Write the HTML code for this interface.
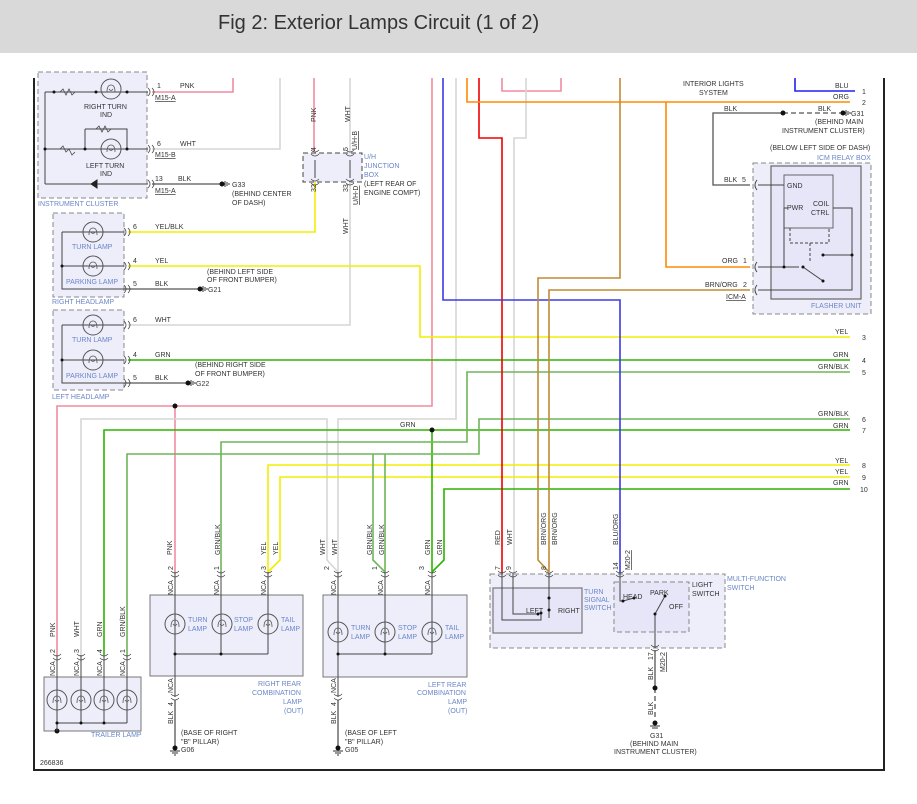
<!DOCTYPE html>
<html><head><meta charset="utf-8"><style>
body{margin:0;background:#fff;width:917px;height:804px;overflow:hidden;font-family:"Liberation Sans",sans-serif}
#hdr{position:absolute;left:0;top:0;width:917px;height:53px;background:#d9d9d9}
#hdr span{position:absolute;left:218px;top:12px;font-size:20px;color:#333}
svg{position:absolute;left:0;top:0}
text{font-family:"Liberation Sans",sans-serif;font-size:7px;fill:#333}
.b{fill:#6a86c8}
</style></head><body>
<div id="hdr"><span>Fig 2: Exterior Lamps Circuit (1 of 2)</span></div>
<svg width="917" height="804" viewBox="0 0 917 804">
<defs>
<g id="ch"><path d="M-4,-4 Q0,0 -4,4 M0,-4 Q4,0 0,4" fill="none" stroke="#444" stroke-width="0.8"/></g>
<g id="cv"><path d="M-4,-3 Q0,1 4,-3 M-4,1 Q0,5 4,1" fill="none" stroke="#444" stroke-width="0.8"/></g>
<g id="lp"><circle r="10" fill="none" stroke="#555" stroke-width="1"/><path d="M-4,3 Q-4,-4 0,-4 Q4,-4 4,3 M-2,0 Q0,3 2,0" fill="none" stroke="#555" stroke-width="0.8"/></g>
<g id="gnd"><path d="M0,-3 V3 M2,-2 V2 M4,-1 V1" stroke="#333" stroke-width="1"/></g>
</defs>
<!-- frame -->
<path d="M34,78 V770 H884 V78" fill="none" stroke="#222" stroke-width="2"/>
<!-- boxes -->
<rect x="38" y="72" width="109" height="126" fill="#eeeefb" stroke="#888" stroke-dasharray="5,3"/>
<rect x="53" y="213" width="71" height="84" fill="#eeeefb" stroke="#888" stroke-dasharray="5,3"/>
<rect x="53" y="310" width="71" height="80" fill="#eeeefb" stroke="#888" stroke-dasharray="5,3"/>
<rect x="303" y="153" width="59" height="29" fill="#eeeefb" stroke="#444" stroke-dasharray="5,3"/>
<rect x="753" y="163" width="118" height="151" fill="#eeeefb" stroke="#888" stroke-dasharray="5,3"/>
<rect x="771" y="166" width="90" height="133" fill="#e6e6f8" stroke="#666" stroke-width="1.2"/>
<rect x="784" y="175" width="49" height="53" fill="#e6e6f8" stroke="#666" stroke-width="1"/>
<rect x="150" y="595" width="153" height="81" fill="#eeeefb" stroke="#777"/>
<rect x="323" y="595" width="144" height="82" fill="#eeeefb" stroke="#777"/>
<rect x="44" y="677" width="97" height="54" fill="#eeeefb" stroke="#777"/>
<rect x="490" y="574" width="235" height="74" fill="#eeeefb" stroke="#888" stroke-dasharray="5,3"/>
<rect x="493" y="588" width="89" height="45" fill="#e6e6f8" stroke="#777" stroke-width="1.2"/>
<rect x="614" y="582" width="75" height="50" fill="#e6e6f8" stroke="#888" stroke-dasharray="5,3"/>

<g fill="none" stroke-width="1.6">
<!-- PNK -->
<path d="M152,92 H233 V78" stroke="#f08ca0"/>
<path d="M314,78 V153" stroke="#f08ca0"/>
<path d="M432,78 V406 H57 V655" stroke="#f08ca0"/>
<path d="M175,406 V572" stroke="#f08ca0"/>
<path d="M502,78 V91 H561 V78" stroke="#f08ca0"/>
<!-- WHT -->
<path d="M152,149 H280 V78" stroke="#d6d6d6"/>
<path d="M350,78 V153" stroke="#d6d6d6"/>
<path d="M350,182 V325 H128" stroke="#d6d6d6"/>
<path d="M456,78 V419 H338 V572" stroke="#d6d6d6"/>
<path d="M81,655 V419 H327 V560 L338,572" stroke="#d6d6d6"/>
<path d="M526,78 V138 H514 V573" stroke="#d6d6d6"/>
<!-- YEL -->
<path d="M315,182 V232 H128" stroke="#f2ee00"/>
<path d="M128,266 H420 V337 H850" stroke="#f2ee00"/>
<path d="M850,465 H268 V572" stroke="#f2ee00"/>
<path d="M850,477 H280 V560 L268,572" stroke="#f2ee00"/>
<!-- GRN -->
<path d="M128,360 H850" stroke="#2db400"/>
<path d="M850,430 H104 V655" stroke="#2db400"/>
<path d="M432,430 V572" stroke="#2db400"/>
<path d="M850,489 H444 V560 L432,572" stroke="#2db400"/>
<!-- GRN/BLK -->
<path d="M850,372 H467 V442 H221 V572" stroke="#6db55a"/>
<path d="M850,419 H479 V454 H127 V655" stroke="#6db55a"/>
<path d="M373,454 V560 L385,572" stroke="#6db55a"/>
<path d="M385,454 V572" stroke="#6db55a"/>
<!-- RED -->
<path d="M479,78 V138 H502 V573" stroke="#f00000"/>
<!-- BLU -->
<path d="M443,78 V300 H620 V573" stroke="#3a3ae8"/>
<path d="M795,78 V91 H855" stroke="#2020f0"/>
<!-- ORG -->
<path d="M467,78 V102 H850" stroke="#ff8a00"/>
<path d="M666,102 V267 H750" stroke="#ff8a00"/>
<!-- BRN/ORG -->
<path d="M620,78 V278 H538 V560 L549,572" stroke="#c08a35"/>
<path d="M750,290 H549 V572" stroke="#c08a35"/>
<!-- BLK -->
<g stroke="#555" stroke-width="1.3">
<path d="M152,184 H222"/><path d="M124,289 H200"/><path d="M124,383 H188"/>
<path d="M783,113 H713 V185 H750"/>
<path d="M175,700 V748"/><path d="M338,700 V748"/>
<path d="M655,650 V688"/>
</g>
<path d="M783,113 H843" stroke="#555" stroke-width="1.3" stroke-dasharray="5,3"/>
<path d="M655,688 V720" stroke="#555" stroke-width="1.3" stroke-dasharray="5,3"/>
</g>

<!-- dots -->
<g fill="#111">
<circle cx="175" cy="406" r="2.5"/><circle cx="432" cy="430" r="2.5"/>
<circle cx="222" cy="184" r="2.5"/><circle cx="200" cy="289" r="2.5"/><circle cx="188" cy="383" r="2.5"/>
<circle cx="783" cy="113" r="2.5"/><circle cx="843" cy="113" r="2.5"/><circle cx="655" cy="688" r="2.5"/>
<circle cx="175" cy="748" r="2.5"/><circle cx="338" cy="748" r="2.5"/><circle cx="655" cy="723" r="2.5"/><circle cx="57" cy="731" r="2.5"/>
</g>
<use href="#gnd" x="225" y="184"/><use href="#gnd" x="203" y="289"/><use href="#gnd" x="191" y="383"/><use href="#gnd" x="846" y="113"/>
<path d="M170,751 H180 M172,753 H178 M174,755 H176 M333,751 H343 M335,753 H341 M337,755 H339 M650,726 H660 M652,728 H658" stroke="#333" stroke-width="1"/>

<!-- connectors -->
<use href="#ch" x="152" y="92"/><use href="#ch" x="152" y="149"/><use href="#ch" x="152" y="184"/>
<use href="#ch" x="128" y="232"/><use href="#ch" x="128" y="266"/><use href="#ch" x="128" y="289"/>
<use href="#ch" x="128" y="325"/><use href="#ch" x="128" y="360"/><use href="#ch" x="128" y="383"/>
<use href="#cv" x="175" y="574"/><use href="#cv" x="221" y="574"/><use href="#cv" x="268" y="574"/>
<use href="#cv" x="338" y="574"/><use href="#cv" x="385" y="574"/><use href="#cv" x="432" y="574"/>
<use href="#cv" x="57" y="657"/><use href="#cv" x="81" y="657"/><use href="#cv" x="104" y="657"/><use href="#cv" x="127" y="657"/>
<use href="#cv" x="175" y="697"/><use href="#cv" x="338" y="697"/>
<use href="#cv" x="502" y="574"/><use href="#cv" x="513" y="574"/><use href="#cv" x="549" y="574"/><use href="#cv" x="620" y="574"/><use href="#cv" x="655" y="648"/>
<use href="#cv" x="315" y="153"/><use href="#cv" x="350" y="153"/><use href="#cv" x="315" y="182"/><use href="#cv" x="350" y="182"/>
<path d="M757,180 Q753,185 757,190 M757,262 Q753,267 757,272 M757,285 Q753,290 757,295" fill="none" stroke="#444"/>

<!-- inside components: black wires -->
<g fill="none" stroke="#444" stroke-width="1">
<path d="M315,160 V178 M350,160 V178"/>
<path d="M175,572 V697 M221,572 V654 M268,572 V654 M175,654 H268"/>
<path d="M338,572 V697 M385,572 V654 M432,572 V654 M338,654 H432"/>
<path d="M57,655 V731 M81,655 V723 M104,655 V723 M127,655 V723 M57,723 H127"/>
<path d="M45,92 H148 M45,149 H148 M45,184 H148 M45,92 V184"/>
<path d="M85,129 H127 V149 M85,129 V149"/>
<path d="M62,266 H124 M62,232 H124 M62,232 V289 H124"/>
<path d="M62,360 H124 M62,325 H124 M62,325 V383 H124"/>
<path d="M758,185 H784 M758,267 H799 M758,290 H852 V208 H833 M788,208 H784 V267"/>
<path d="M790,228 V243 H829 V228 M810,243 V262" stroke-dasharray="3,2"/>
<path d="M803,267 L823,281 M823,255 H852"/>
<path d="M502,573 V620 H541 V613 M513,573 V614 H538 M549,573 V618 M549,598 V610"/>
<path d="M620,573 V601 H623 L634,598 M655,648 V614 L665,596"/>
</g>
<g fill="#111"><circle cx="54" cy="92" r="1.5"/><circle cx="96" cy="92" r="1.5"/><circle cx="127" cy="92" r="1.5"/>
<circle cx="45" cy="149" r="1.5"/><circle cx="85" cy="149" r="1.5"/><circle cx="127" cy="149" r="1.5"/>
<circle cx="62" cy="266" r="1.5"/><circle cx="62" cy="360" r="1.5"/>
<circle cx="175" cy="654" r="1.5"/><circle cx="221" cy="654" r="1.5"/><circle cx="338" cy="654" r="1.5"/><circle cx="385" cy="654" r="1.5"/>
<circle cx="57" cy="723" r="1.5"/><circle cx="81" cy="723" r="1.5"/><circle cx="104" cy="723" r="1.5"/>
<circle cx="784" cy="267" r="1.5"/><circle cx="803" cy="267" r="1.5"/><circle cx="823" cy="281" r="1.5"/><circle cx="823" cy="255" r="1.5"/><circle cx="852" cy="255" r="1.5"/>
<circle cx="538" cy="614" r="1.5"/><circle cx="541" cy="613" r="1.5"/><circle cx="549" cy="598" r="1.5"/><circle cx="549" cy="610" r="1.5"/>
<circle cx="623" cy="601" r="1.5"/><circle cx="634" cy="598" r="1.5"/><circle cx="665" cy="596" r="1.5"/><circle cx="655" cy="614" r="1.5"/></g>
<path d="M91,184 L97,180 V188 Z M97,180 V188" fill="#222" stroke="#222"/>
<path d="M60,92 l3,-3 l3,6 l3,-6 l3,6 l3,-3 M60,149 l3,-3 l3,6 l3,-3 l3,6 l3,-3 M96,129 l3,-3 l3,6 l3,-6 l3,6 l3,-3" fill="none" stroke="#444" stroke-width="0.8"/>

<!-- lamps -->
<g fill="#eeeefb">
<use href="#lp" x="111" y="89"/><use href="#lp" x="111" y="149"/>
<use href="#lp" x="93" y="232"/><use href="#lp" x="93" y="266"/>
<use href="#lp" x="93" y="325"/><use href="#lp" x="93" y="360"/>
<use href="#lp" x="175" y="624"/><use href="#lp" x="222" y="624"/><use href="#lp" x="268" y="624"/>
<use href="#lp" x="338" y="632"/><use href="#lp" x="385" y="632"/><use href="#lp" x="432" y="632"/>
<use href="#lp" x="57" y="700"/><use href="#lp" x="81" y="700"/><use href="#lp" x="104" y="700"/><use href="#lp" x="127" y="700"/>
</g>

<!-- labels -->
<text x="157" y="88">1</text><text x="180" y="88">PNK</text><text x="155" y="100" text-decoration="underline">M15-A</text>
<text x="157" y="146">6</text><text x="180" y="146">WHT</text><text x="155" y="157" text-decoration="underline">M15-B</text>
<text x="155" y="181">13</text><text x="178" y="181">BLK</text><text x="155" y="193" text-decoration="underline">M15-A</text>
<text x="232" y="187">G33</text><text x="232" y="196">(BEHIND CENTER</text><text x="232" y="205">OF DASH)</text>
<text x="84" y="109">RIGHT TURN</text><text x="100" y="117">IND</text>
<text x="86" y="168">LEFT TURN</text><text x="100" y="176">IND</text>
<text class="b" x="38" y="206">INSTRUMENT CLUSTER</text>
<text x="133" y="229">6</text><text x="155" y="229">YEL/BLK</text>
<text x="133" y="263">4</text><text x="155" y="263">YEL</text>
<text x="133" y="286">5</text><text x="155" y="286">BLK</text>
<text x="207" y="274">(BEHIND LEFT SIDE</text><text x="207" y="282">OF FRONT BUMPER)</text><text x="208" y="292">G21</text>
<text class="b" x="72" y="249">TURN LAMP</text><text class="b" x="66" y="284">PARKING LAMP</text><text class="b" x="52" y="304">RIGHT HEADLAMP</text>
<text x="133" y="322">6</text><text x="155" y="322">WHT</text>
<text x="133" y="357">4</text><text x="155" y="357">GRN</text>
<text x="133" y="380">5</text><text x="155" y="380">BLK</text>
<text x="195" y="367">(BEHIND RIGHT SIDE</text><text x="195" y="376">OF FRONT BUMPER)</text><text x="196" y="386">G22</text>
<text class="b" x="72" y="342">TURN LAMP</text><text class="b" x="66" y="378">PARKING LAMP</text><text class="b" x="52" y="399">LEFT HEADLAMP</text>
<text x="364" y="159" class="b">U/H</text><text class="b" x="364" y="168">JUNCTION</text><text class="b" x="364" y="177">BOX</text>
<text x="364" y="186">(LEFT REAR OF</text><text x="364" y="195">ENGINE COMPT)</text>
<text transform="rotate(-90 316 122)" x="316" y="122">PNK</text>
<text transform="rotate(-90 350 122)" x="350" y="122">WHT</text>
<text transform="rotate(-90 316 151)" x="316" y="151">4</text>
<text transform="rotate(-90 348 151)" x="348" y="151">5</text>
<text transform="rotate(-90 357 150)" x="357" y="150" text-decoration="underline">U/H-B</text>
<text transform="rotate(-90 316 192)" x="316" y="192">32</text>
<text transform="rotate(-90 348 192)" x="348" y="192">33</text>
<text transform="rotate(-90 358 205)" x="358" y="205" text-decoration="underline">U/H-D</text>
<text transform="rotate(-90 348 234)" x="348" y="234">WHT</text>
<text x="683" y="86">INTERIOR LIGHTS</text><text x="699" y="95">SYSTEM</text>
<text x="835" y="88">BLU</text><text x="862" y="94">1</text>
<text x="833" y="99">ORG</text><text x="862" y="105">2</text>
<text x="724" y="111">BLK</text><text x="818" y="111">BLK</text><text x="851" y="116">G31</text>
<text x="815" y="124">(BEHIND MAIN</text><text x="782" y="133">INSTRUMENT CLUSTER)</text>
<text x="770" y="150">(BELOW LEFT SIDE OF DASH)</text><text class="b" x="817" y="160">ICM RELAY BOX</text>
<text x="724" y="182">BLK</text><text x="742" y="182">5</text>
<text x="787" y="188">GND</text><text x="787" y="210">PWR</text><text x="813" y="206">COIL</text><text x="811" y="215">CTRL</text>
<text x="722" y="263">ORG</text><text x="743" y="263">1</text>
<text x="705" y="287">BRN/ORG</text><text x="743" y="287">2</text><text x="726" y="299" text-decoration="underline">ICM-A</text>
<text class="b" x="811" y="308">FLASHER UNIT</text>
<text x="835" y="334">YEL</text><text x="862" y="340">3</text>
<text x="833" y="357">GRN</text><text x="862" y="363">4</text>
<text x="818" y="369">GRN/BLK</text><text x="862" y="375">5</text>
<text x="818" y="416">GRN/BLK</text><text x="862" y="422">6</text>
<text x="833" y="428">GRN</text><text x="862" y="433">7</text>
<text x="835" y="463">YEL</text><text x="862" y="468">8</text>
<text x="835" y="474">YEL</text><text x="862" y="480">9</text>
<text x="833" y="485">GRN</text><text x="860" y="492">10</text>
<text x="400" y="427">GRN</text>
<!-- vertical labels bottom -->
<g>
<text transform="rotate(-90 172 555)" x="172" y="555">PNK</text>
<text transform="rotate(-90 220 555)" x="220" y="555">GRN/BLK</text>
<text transform="rotate(-90 266 555)" x="266" y="555">YEL</text><text transform="rotate(-90 278 555)" x="278" y="555">YEL</text>
<text transform="rotate(-90 325 555)" x="325" y="555">WHT</text><text transform="rotate(-90 337 555)" x="337" y="555">WHT</text>
<text transform="rotate(-90 372 555)" x="372" y="555">GRN/BLK</text><text transform="rotate(-90 384 555)" x="384" y="555">GRN/BLK</text>
<text transform="rotate(-90 430 555)" x="430" y="555">GRN</text><text transform="rotate(-90 442 555)" x="442" y="555">GRN</text>
<text transform="rotate(-90 500 545)" x="500" y="545">RED</text><text transform="rotate(-90 512 545)" x="512" y="545">WHT</text>
<text transform="rotate(-90 546 545)" x="546" y="545">BRN/ORG</text><text transform="rotate(-90 557 545)" x="557" y="545">BRN/ORG</text>
<text transform="rotate(-90 618 545)" x="618" y="545">BLU/ORG</text>
<text transform="rotate(-90 173 570)" x="173" y="570">2</text><text transform="rotate(-90 219 570)" x="219" y="570">1</text><text transform="rotate(-90 266 570)" x="266" y="570">3</text>
<text transform="rotate(-90 329 570)" x="329" y="570">2</text><text transform="rotate(-90 377 570)" x="377" y="570">1</text><text transform="rotate(-90 424 570)" x="424" y="570">3</text>
<text transform="rotate(-90 500 570)" x="500" y="570">7</text><text transform="rotate(-90 511 570)" x="511" y="570">9</text><text transform="rotate(-90 546 570)" x="546" y="570">8</text><text transform="rotate(-90 618 570)" x="618" y="570">14</text>
<text transform="rotate(-90 630 570)" x="630" y="570" text-decoration="underline">M20-2</text>
<text transform="rotate(-90 173 595)" x="173" y="595">NCA</text><text transform="rotate(-90 219 595)" x="219" y="595">NCA</text><text transform="rotate(-90 266 595)" x="266" y="595">NCA</text>
<text transform="rotate(-90 336 595)" x="336" y="595">NCA</text><text transform="rotate(-90 383 595)" x="383" y="595">NCA</text><text transform="rotate(-90 430 595)" x="430" y="595">NCA</text>
<text transform="rotate(-90 55 637)" x="55" y="637">PNK</text><text transform="rotate(-90 79 637)" x="79" y="637">WHT</text><text transform="rotate(-90 102 637)" x="102" y="637">GRN</text><text transform="rotate(-90 125 637)" x="125" y="637">GRN/BLK</text>
<text transform="rotate(-90 55 653)" x="55" y="653">2</text><text transform="rotate(-90 79 653)" x="79" y="653">3</text><text transform="rotate(-90 102 653)" x="102" y="653">4</text><text transform="rotate(-90 125 653)" x="125" y="653">1</text>
<text transform="rotate(-90 55 676)" x="55" y="676">NCA</text><text transform="rotate(-90 79 676)" x="79" y="676">NCA</text><text transform="rotate(-90 102 676)" x="102" y="676">NCA</text><text transform="rotate(-90 125 676)" x="125" y="676">NCA</text>
<text transform="rotate(-90 173 693)" x="173" y="693">NCA</text><text transform="rotate(-90 173 706)" x="173" y="706">4</text><text transform="rotate(-90 173 724)" x="173" y="724">BLK</text>
<text transform="rotate(-90 336 693)" x="336" y="693">NCA</text><text transform="rotate(-90 336 706)" x="336" y="706">4</text><text transform="rotate(-90 336 724)" x="336" y="724">BLK</text>
<text transform="rotate(-90 653 660)" x="653" y="660">17</text><text transform="rotate(-90 665 672)" x="665" y="672" text-decoration="underline">M20-2</text>
<text transform="rotate(-90 653 680)" x="653" y="680">BLK</text><text transform="rotate(-90 653 715)" x="653" y="715">BLK</text>
</g>
<text class="b" x="188" y="622">TURN</text><text class="b" x="188" y="631">LAMP</text>
<text class="b" x="234" y="622">STOP</text><text class="b" x="234" y="631">LAMP</text>
<text class="b" x="281" y="622">TAIL</text><text class="b" x="281" y="631">LAMP</text>
<text class="b" x="351" y="630">TURN</text><text class="b" x="351" y="639">LAMP</text>
<text class="b" x="398" y="630">STOP</text><text class="b" x="398" y="639">LAMP</text>
<text class="b" x="445" y="630">TAIL</text><text class="b" x="445" y="639">LAMP</text>
<text class="b" x="258" y="686">RIGHT REAR</text><text class="b" x="252" y="695">COMBINATION</text><text class="b" x="283" y="704">LAMP</text><text class="b" x="284" y="713">(OUT)</text>
<text class="b" x="428" y="687">LEFT REAR</text><text class="b" x="417" y="695">COMBINATION</text><text class="b" x="448" y="704">LAMP</text><text class="b" x="448" y="713">(OUT)</text>
<text class="b" x="91" y="737">TRAILER LAMP</text>
<text x="181" y="735">(BASE OF RIGHT</text><text x="181" y="744">"B" PILLAR)</text><text x="181" y="752">G06</text>
<text x="345" y="735">(BASE OF LEFT</text><text x="345" y="744">"B" PILLAR)</text><text x="345" y="752">G05</text>
<text x="40" y="765">266836</text>
<text x="526" y="613">LEFT</text><text x="558" y="613">RIGHT</text>
<text class="b" x="584" y="594">TURN</text><text class="b" x="584" y="602">SIGNAL</text><text class="b" x="584" y="610">SWITCH</text>
<text x="623" y="599">HEAD</text><text x="650" y="595">PARK</text><text x="669" y="609">OFF</text>
<text x="692" y="587">LIGHT</text><text x="692" y="596">SWITCH</text>
<text class="b" x="727" y="581">MULTI-FUNCTION</text><text class="b" x="727" y="590">SWITCH</text>
<text x="650" y="738">G31</text><text x="630" y="746">(BEHIND MAIN</text><text x="614" y="754">INSTRUMENT CLUSTER)</text>
</svg>
</body></html>
